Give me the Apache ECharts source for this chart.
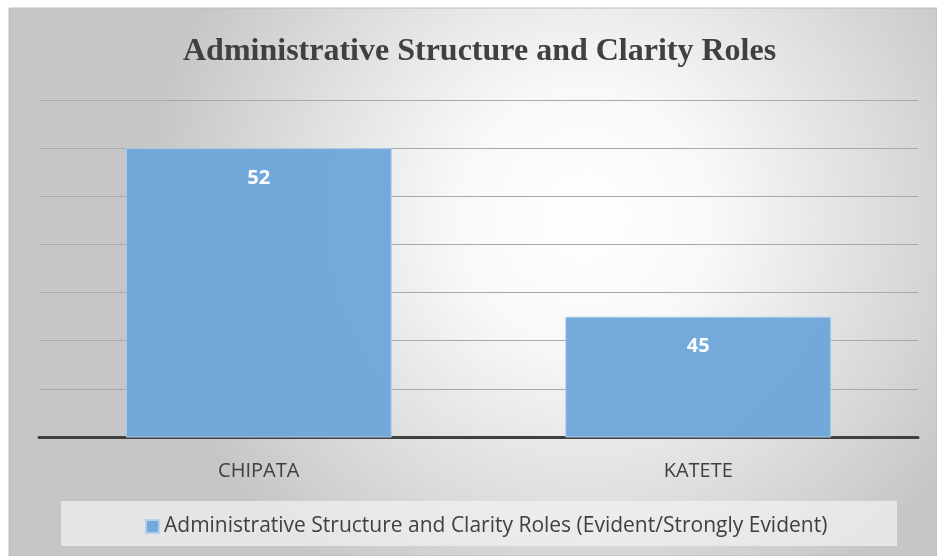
<!DOCTYPE html>
<html>
<head>
<meta charset="utf-8">
<script src="https://cdn.jsdelivr.net/npm/echarts@6/dist/echarts.min.js"></script>
<style>
  html, body { margin: 0; padding: 0; background: #ffffff; }
  #chart { width: 937px; height: 556px; }
</style>
</head>
<body>
<div id="chart"></div>
<script>
// Districts and their share of respondents rating administrative structure as evident
const categories = ['CHIPATA', 'KATETE'];
const values = [52, 45];
const seriesName = 'Administrative Structure and Clarity Roles (Evident/Strongly Evident)';
const chartTitle = 'Administrative Structure and Clarity Roles';

const chart = echarts.init(document.getElementById('chart'), null, { renderer: 'canvas' });

chart.setOption({
  animation: false,
  backgroundColor: '#ffffff',
  graphic: [
    {
      type: 'rect',
      z: -10,
      shape: { x: 9, y: 8, width: 928, height: 548 },
      style: {
        fill: {
          type: 'radial', x: 0.62, y: 0.38, r: 0.8,
          colorStops: [
            { offset: 0, color: '#ffffff' },
            { offset: 0.3, color: '#f8f8f8' },
            { offset: 1, color: '#c6c6c6' }
          ]
        },
        stroke: '#bdbdbd', lineWidth: 1
      }
    },
    {
      type: 'rect',
      z: -9,
      shape: { x: 61, y: 501, width: 836, height: 45 },
      style: { fill: 'rgba(242,242,242,0.7)' }
    }
  ],
  title: {
    text: chartTitle,
    left: 178,
    top: 31,
    textStyle: {
      fontFamily: '"Liberation Serif", "Times New Roman", serif',
      fontWeight: 'bold',
      fontSize: 32,
      color: '#404040'
    }
  },
  legend: {
    data: [seriesName],
    left: 140,
    top: 511,
    itemWidth: 13,
    itemHeight: 13,
    itemGap: 4,
    icon: 'rect',
    textStyle: {
      fontFamily: '"Open Sans", sans-serif',
      fontSize: 21,
      color: '#404040'
    }
  },
  grid: { left: 39, right: 19, top: 100, bottom: 119 },
  xAxis: {
    type: 'category',
    data: categories,
    axisTick: { show: false },
    axisLine: { lineStyle: { color: '#404040', width: 3 } },
    axisLabel: {
      fontFamily: '"Open Sans", sans-serif',
      fontSize: 20,
      color: '#404040',
      margin: 24
    }
  },
  yAxis: {
    type: 'value',
    min: 40,
    max: 54,
    interval: 2,
    axisLabel: { show: false },
    axisLine: { show: false },
    axisTick: { show: false },
    splitLine: { lineStyle: { color: '#a9a9a9', width: 1 } }
  },
  series: [{
    name: seriesName,
    type: 'bar',
    data: values,
    barCategoryGap: '39.5%',
    itemStyle: {
      color: '#6fa6da',
      borderColor: '#b3cfea',
      borderWidth: 1,
      opacity: 0.97
    },
    label: {
      show: true,
      position: 'insideTop',
      distance: 20,
      fontFamily: '"Open Sans", sans-serif',
      fontWeight: 'bold',
      fontSize: 20,
      color: '#ffffff'
    }
  }]
});
</script>
</body>
</html>
